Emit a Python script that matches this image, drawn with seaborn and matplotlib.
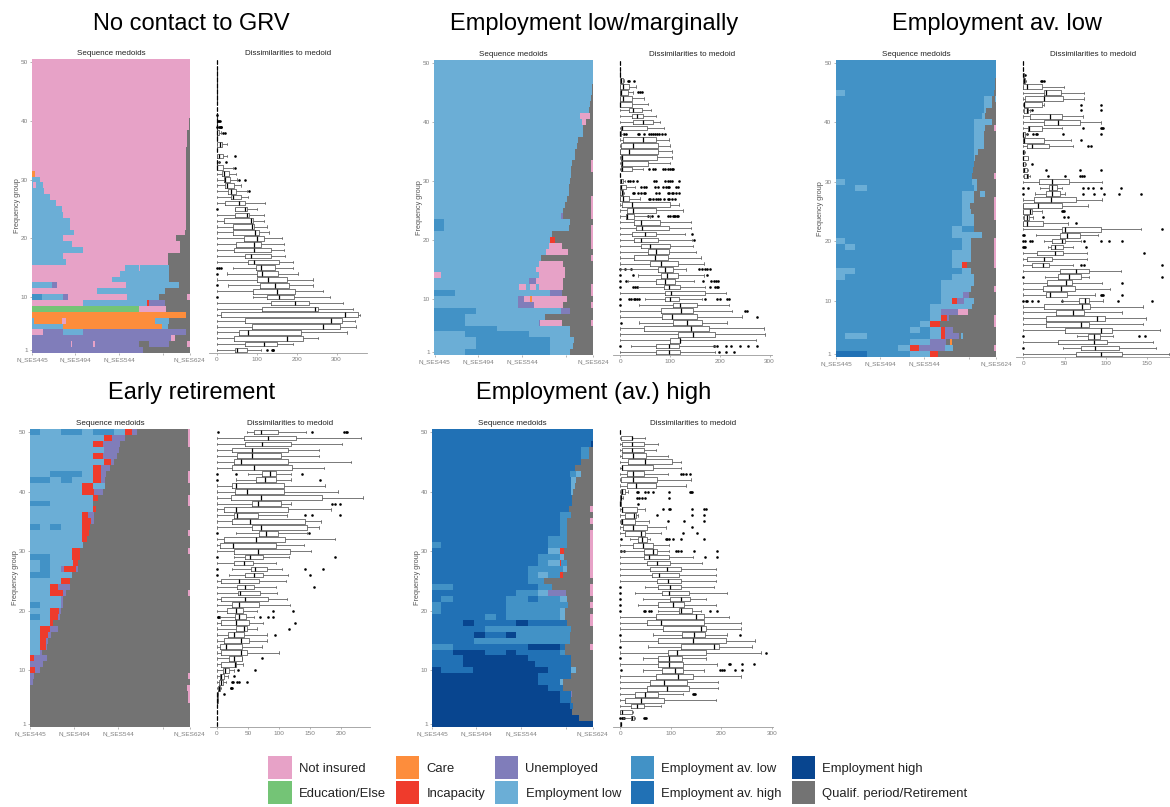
import numpy as np
import pandas as pd
import matplotlib
matplotlib.use("Agg")
import matplotlib.pyplot as plt
from matplotlib.colors import ListedColormap
from matplotlib.patches import Patch, Rectangle
from matplotlib.legend_handler import HandlerPatch
import seaborn as sns

sns.set_theme(style="white")
plt.rcParams['font.family'] = ['Liberation Sans', 'DejaVu Sans']

STATE_CODES = list("NECIULAHTQ")
STATE_LABELS = ["Not insured", "Education/Else", "Care", "Incapacity", "Unemployed",
                "Employment low", "Employment av. low", "Employment av. high",
                "Employment high", "Qualif. period/Retirement"]
STATE_COLORS = ["#E7A2C7", "#74C476", "#FD8D3C", "#EF3B2C", "#807DBA",
                "#6BAED6", "#4292C6", "#2171B5", "#08458F", "#737373"]
PANEL_TITLES = ["No contact to GRV", "Employment low/marginally", "Employment av. low",
                "Early retirement", "Employment (av.) high"]
X_TICK_MONTHS = [0, 49, 99, 149, 179]
X_TICK_LABELS = ["N_SES445", "N_SES494", "N_SES544", "", "N_SES624"]
Y_TICKS = [1, 10, 20, 30, 40, 50]
BOX_TICKS = [[0, 100, 200, 300], [0, 100, 200, 300], [0, 50, 100, 150],
             [0, 50, 100, 150, 200], [0, 100, 200, 300]]

# Sequences, rows 1..50: state code + end month of each spell
SEQ_1 = ["U126 Q180", "U44 N46 U69 N72 U122 Q133 U156 Q177 N180", "U158 N163 Q180", "N12 U35 L58 U176 Q180",
 "L35 C148 L155 Q180", "L2 C34 N39 C140 L156 Q180", "C175 Q180", "E122 N153 Q180", "N58 L131 I133 U152 Q180",
 "A11 L35 U41 N108 L145 Q177 N180", "N74 L152 Q180", "L23 U28 N107 L167 Q180", "N91 L156 Q180", "N100 L156 Q180",
 "N106 L122 N123 L156 Q180", "L39 N155 Q180", "L35 N155 Q180", "L58 N169 Q180", "L46 N169 Q180", "L35 N164 Q180",
 "L48 N174 Q180", "L43 N175 Q180", "L43 N175 Q180", "L35 N176 Q180", "L34 N176 Q180", "L27 N176 Q180",
 "L21 N176 Q180", "L14 N176 Q180", "L1 N5 L12 N176 Q180", "L9 N176 Q180", "C3 N176 Q180", "N175 Q180",
 "N176 Q180", "N176 Q180", "N176 Q180", "N177 Q180", "N177 Q180", "N177 Q180", "N179 Q180", "N179 Q180",
 "N180", "N180", "N180", "N180", "N180", "N180", "N180", "N180", "N180", "N180"]
SEQ_2 = ["L35 A131 L154 Q180", "L47 A131 L157 Q180", "L47 A131 L158 Q180", "L35 A107 L154 Q180", "A71 L154 Q180",
 "A35 L118 U120 N145 Q177 N180", "A35 L125 Q180", "A47 L143 U154 Q180", "L95 U113 N146 Q177 N180",
 "L95 U102 N108 C111 N150 Q180", "A23 L131 U145 Q177 N180", "L96 N104 L108 N115 L118 N146 Q177 N180",
 "L107 U115 N146 Q180", "N8 L118 N148 Q180", "L115 N148 Q180", "L118 N146 Q180", "L121 Q177 N180", "L126 N151 Q180",
 "L130 N145 Q177 N180", "L131 I137 Q177 N180", "L133 Q177 N180", "A11 L152 Q177 N180", "A11 L154 Q180",
 "L143 U146 Q177 N180", "L146 Q177 N180", "L148 Q177 N180", "L150 Q177 N180", "L152 Q180", "L152 Q180", "L154 Q180",
 "L155 Q180", "L155 Q177 N180", "L156 Q177 N180", "L159 Q180", "L159 Q180", "L162 Q180", "L163 Q180", "L168 Q180",
 "L168 Q180", "L167 N172 Q180", "L165 N176 Q180", "L175 Q180", "L176 Q180", "L177 Q180", "L178 Q180", "L179 Q180",
 "L180", "L180", "L180", "L180"]
SEQ_3 = ["H35 A83 L106 I115 Q180", "A70 L83 I93 U122 L131 Q177 N180", "A83 L106 U124 Q128 C130 Q180",
 "A10 L35 A106 L118 I123 U138 Q140 L143 Q180", "A83 L94 A106 L118 I123 U132 Q180", "A94 L106 I117 Q177 N180",
 "A106 L118 I125 U127 Q177 N180", "A106 L118 U137 N148 Q180", "A106 L153 Q180", "A118 L130 I136 U144 L155 Q180",
 "A118 L143 U149 Q180", "A118 L152 Q177 N180", "A118 L155 Q180", "L10 A130 L155 Q180", "L22 A142 L152 Q180",
 "A130 L142 I147 Q177 N180", "A130 L152 Q177 N180", "A130 L152 Q177 N180", "A10 L22 A142 L152 Q177 N180",
 "L10 A142 L152 Q177 N180", "A130 L164 Q180", "A130 L142 A155 Q180", "A142 L155 Q180", "A142 L155 Q177 N180",
 "A142 L152 Q177 N180", "A142 L150 Q177 N180", "A142 L155 Q177 N180", "A142 L155 Q162 L167 Q180",
 "A22 L35 A155 L158 Q180", "L10 A153 L158 Q180", "A153 Q177 N180", "A154 Q180", "A155 Q180", "A155 L156 Q180",
 "A155 L159 Q180", "A155 L166 Q180", "A155 L166 Q180", "A155 L166 Q180", "A155 L167 Q177 N180", "A155 L175 Q180",
 "A164 L167 Q180", "A166 L168 Q180", "A166 L175 Q180", "A166 L175 Q178 L180", "L10 A177 Q180", "A178 Q180",
 "A179 Q180", "A180", "A180", "A180"]
SEQ_4 = ["Q180", "Q180", "Q180", "Q180", "Q178 N180", "Q178 N180", "Q177 N180", "U3 Q180", "U5 Q178 N180", "I6 U11 Q180",
 "U15 Q180", "I4 U19 Q180", "L11 U14 Q180", "L11 I18 U19 Q180", "L11 I18 U20 Q180", "L11 I20 U24 Q180",
 "L11 I22 U31 Q180", "L23 I26 Q180", "A11 L23 I32 U34 Q180", "L23 I33 U35 Q180", "A11 L35 U37 Q180", "L35 U37 Q180",
 "L23 I37 U40 Q178 N180", "L23 I31 U45 Q180", "L35 I45 Q180", "A23 L47 Q180", "L11 A23 L35 U38 I52 U54 Q180",
 "L11 A23 L48 I54 Q180", "A23 L47 I56 Q180", "L47 I56 Q178 N180", "L60 Q180", "L59 I64 Q180", "L59 I66 Q178 N180",
 "A11 L23 A35 L59 I67 Q180", "L59 I69 U72 Q180", "L59 I65 U72 Q180", "L71 I74 Q180", "A23 L71 Q178 N180",
 "L71 I76 Q178 N180", "L59 I72 U82 Q180", "L59 I71 L84 Q180", "A23 L35 A47 L71 I80 U84 Q178 N180",
 "L23 A59 L71 I80 U85 Q178 N180", "L71 I80 U90 Q180", "L83 I91 U95 Q180", "L71 I82 U98 Q180", "L83 U100 Q180",
 "L71 I82 U101 Q178 N180", "L83 I92 U107 Q178 N180", "A11 L35 A59 L71 A95 L107 I115 U120 Q178 N180"]
SEQ_5 = ["T180", "T164 Q180", "T156 Q180", "T154 H158 Q180", "T143 H155 Q180", "T143 H155 U156 Q180", "T130 H146 Q180",
 "T119 H143 L146 Q180", "T119 H155 Q180", "T10 H46 T130 H155 L161 Q180", "H35 T115 H155 Q180", "H35 T107 H155 Q180",
 "H23 T59 H83 T94 H143 A149 Q180", "A23 H107 T143 H149 Q177 N180", "H47 A154 Q180", "H47 T59 H83 T94 A154 Q180",
 "H59 A155 Q180", "H35 T47 H94 T107 H151 Q177 N180", "H59 A71 H83 A143 L149 Q177 N180", "A10 H83 A143 L149 Q180",
 "A10 H83 A152 Q177 N180", "H10 A23 H83 A107 H118 A143 L151 Q180", "H94 A118 L130 U150 Q177 N180",
 "A23 H118 A134 Q177 N180", "H107 A125 Q180", "H107 A118 L130 A143 I147 Q177 N180", "H107 A147 L151 Q177 N180",
 "H118 A130 L143 I144 A151 Q177 N180", "H118 A143 L148 Q177 N180", "H130 L143 I148 Q177 N180",
 "A10 H130 A151 Q177 N180", "H130 A151 Q177 N180", "H143 A151 Q177 N180", "H143 A151 Q180", "H143 A151 Q177 N180",
 "H143 A155 Q180", "H153 Q177 N180", "H156 Q180", "H156 Q180", "H155 L158 Q180", "H155 L160 Q180", "H155 L161 Q180",
 "H154 A161 L167 Q180", "H160 Q180", "H167 Q180", "H167 A176 Q180", "H167 A176 Q180", "H178 T180", "H180", "H180"]

Z = (0, 0, 0, 0, 0)
# Boxes, rows 1..50: whisker low, q1, median, q3, whisker high
BOX_1 = [(0,45,52,77,110),(0,72,119,150,190),(0,43,177,217,253),(0,56,79,211,327),(0,89,267,309,348),(0,72,285,314,345),
 (0,12,321,353,358),(0,114,246,254,342),(0,137,197,231,316),(92,125,157,193,284),(0,92,150,196,265),(28,108,146,180,240),
 (0,102,129,175,240),(25,102,114,154,203),(40,98,112,147,192),(0,79,94,157,192),(0,72,85,136,170),(0,44,93,136,168),
 (0,48,93,110,168),(0,69,100,119,163),(0,42,96,107,132),(0,42,88,93,125),(0,19,85,92,118),(0,46,77,82,118),(45,46,71,77,102),
 (0,22,57,72,120),(0,35,42,60,78),(0,29,37,48,75),(0,21,25,44,62),(0,19,22,33,50),(0,14,18,30,48),(0,0,1,17,40),(0,0,0,1,5),
 (0,0,6,17,25),Z,(0,2,8,14,25),Z,(0,0,0,7,12),Z,Z,Z,Z,Z,Z,Z,Z,Z,Z,Z,Z]
BOX_2 = [(0,72,97,121,190),(22,72,97,119,190),(0,99,121,121,272),(0,115,146,191,290),(0,48,142,179,288),(37,105,135,164,214),
 (0,84,104,154,245),(0,82,123,146,224),(37,105,121,154,218),(50,89,99,119,165),(0,90,101,170,212),(35,87,97,121,170),
 (15,72,89,109,148),(35,81,93,117,168),(0,76,89,105,133),(0,60,81,117,168),(0,28,70,95,163),(0,56,71,97,153),(0,42,60,100,147),
 (0,27,42,76,145),(0,24,50,72,130),(0,32,44,97,142),(0,27,42,80,142),(0,11,14,28,60),(0,13,25,71,127),(0,4,23,99,118),
 (0,0,6,18,40),(0,0,4,6,8),(0,0,2,12,30),(0,0,2,5,10),Z,(0,2,4,24,45),(0,2,4,56,100),(0,2,3,74,103),(0,0,18,76,103),(0,2,26,76,100),
 (0,6,46,72,97),(0,0,0,2,5),(0,2,3,54,87),(0,25,46,65,80),(0,23,33,46,72),(0,17,25,44,61),(0,0,0,24,55),(0,0,6,24,47),(0,0,2,15,25),
 (0,0,6,18,32),(0,0,2,6,8),Z,Z,Z]
BOX_3 = [(0,64,94,119,176),(48,70,87,116,160),(0,42,85,101,157),(65,78,85,93,108),(0,50,94,107,166),(0,27,70,80,145),(0,28,89,99,148),
 (0,40,60,74,120),(0,25,71,81,145),(47,67,75,80,97),(0,28,32,53,87),(0,24,45,62,105),(0,29,52,59,95),(26,42,55,70,80),(0,44,64,79,118),
 (0,11,24,31,60),(0,4,25,35,77),(0,16,38,48,77),(30,33,38,48,60),(25,35,47,51,70),(15,44,53,68,90),(0,47,50,94,143),(0,0,4,24,54),
 (0,1,4,7,12),(0,0,8,11,22),(0,0,18,47,78),(0,13,34,64,95),(14,27,35,44,50),(20,31,35,41,47),(0,19,35,55,95),(0,1,4,6,8),(0,0,1,4,6),
 (0,0,0,2,3),(0,0,0,6,6),(0,0,0,1,2),(0,4,11,31,60),(0,0,1,25,58),(0,0,0,2,4),(0,6,7,23,47),(0,25,42,68,94),(0,8,32,47,72),(0,1,4,6,8),
 (0,1,1,22,25),(0,2,25,48,74),(0,25,27,46,74),(0,0,4,23,49),(0,0,1,2,3),(0,0,0,1,1),Z,Z]
BOX_4 = [Z,Z,Z,Z,(0,0,0,1,1),(0,0,0,1,2),(0,2,3,5,6),(0,4,6,10,14),(0,5,7,12,17),(0,10,13,20,28),(0,7,29,31,42),(0,19,28,41,41),
 (0,6,39,48,100),(0,5,15,40,73),(0,11,39,52,80),(0,17,27,44,80),(0,30,43,48,65),(0,6,31,52,75),(5,29,36,47,60),(0,16,31,42,65),
 (0,25,36,68,118),(0,6,46,82,113),(0,34,37,70,97),(0,32,45,59,95),(0,7,36,68,112),(20,46,60,75,115),(25,55,62,81,105),(0,28,43,58,96),
 (28,46,53,75,116),(0,28,66,118,152),(0,5,26,96,141),(0,11,63,110,190),(30,67,79,98,145),(0,57,71,146,165),(0,25,53,142,168),
 (0,28,33,66,113),(0,11,31,114,184),(0,57,66,103,120),(0,22,71,170,236),(0,29,48,108,196),(0,25,30,108,175),(30,63,77,96,120),
 (50,72,85,96,120),(0,25,60,121,172),(0,27,38,114,216),(0,33,56,104,165),(0,25,56,114,165),(0,46,73,120,202),(0,44,82,128,232),(48,60,71,98,143)]
BOX_5 = [(0,0,1,1,2),(5,21,24,27,30),(0,0,4,24,25),(0,22,33,48,80),(0,10,42,87,190),(0,30,49,75,124),(0,53,92,137,193),(0,59,87,133,193),
 (0,72,115,145,240),(45,83,109,125,167),(0,75,97,125,192),(45,75,97,122,170),(0,95,113,171,278),(55,121,185,195,262),(0,76,144,209,266),
 (65,123,146,169,212),(0,84,160,171,240),(0,54,80,167,240),(0,72,150,167,216),(75,117,121,142,160),(35,76,104,127,190),(45,98,120,139,170),
 (30,83,96,137,212),(50,75,98,121,185),(0,73,94,121,190),(0,63,78,117,190),(0,59,92,121,190),(0,53,73,98,162),(0,47,57,96,145),
 (0,47,65,73,96),(0,26,46,66,96),(20,35,44,53,60),(0,9,42,50,80),(0,5,26,53,90),(0,1,3,30,58),(0,9,28,32,35),(0,3,3,34,50),(0,0,0,1,2),
 (0,0,1,2,5),(0,1,3,9,15),(0,13,32,72,130),(0,1,25,74,140),(0,13,26,48,95),(0,4,4,66,120),(0,15,50,103,120),(0,3,25,51,95),(0,3,24,48,72),
 (0,3,24,48,75),(0,1,24,24,50),Z]

# Outliers, row -> values
OUT_1 = {1:[126,138,140,142],10:[1],12:[1],14:[1],15:[1,5,10],25:[1],28:[80],30:[57,70],32:[46],33:[6,24],34:[46],38:[17,20],
 39:[2,5,8,10,12],40:[3,6,8],41:[2]}
OUT_2 = {1:[198,212,228],2:[0,188,195,213,222,240,257,275],6:[1],7:[274],8:[250,254],9:[0],
 10:[0,17,22,27,30,33,37,170,195,200,215,218],12:[0,25,30,33,180,190,195,197],13:[0,12,167,183,188,192,196],14:[0,25,174],
 15:[0,10,22,158,165,170,175,180],20:[148],21:[145],24:[56,63,75,95,100,105,108,110,113,115],
 27:[57,60,65,72,75,80,87,95,97,103,110],28:[25,28,35,42,47,50,72,77,95,98,103,105,112,118],
 29:[42,48,52,70,75,85,92,95,98,112,116],30:[15,20,25,34,68,72,90,95,100,103,119],32:[58,65,70,85,90,95,100,103,106],
 38:[8,12,35,38,48,58,62,65,70,74,78,84,90],45:[35,40,43],47:[16,18,28]}
OUT_3 = {2:[0],4:[0,140,147],10:[0,3,5,10,18,47,114,156],11:[94,95,96,120],13:[120],14:[0,168],16:[70,73,168],18:[146],19:[0,1,2,76],
 20:[0,2,8,10,74,94,104,120],21:[0,1],22:[168],23:[64],24:[24,49,54],25:[47,48,49],28:[0,72,86,98,116,142],29:[0,6,72,78,84,94,118],
 31:[30,50,68,71,73],32:[28,68,94],33:[10],36:[78,82],37:[70],38:[4,12,15,17,48,94],39:[72,94,95,96],42:[10,70,94],43:[70,94],47:[21,23,25],48:[2]}
OUT_4 = {6:[12],7:[22,23,24],8:[25,26,32,36,48],9:[28],10:[34,62],12:[72],16:[94],17:[117],18:[126],19:[1,2,3,70,82,90],20:[90,122],24:[156],
 26:[0,150],27:[0,142,171],29:[0,190],33:[0,148],36:[142,153,198],38:[186,190,198],42:[0,166],43:[0,30,138],50:[1,154,205,208,210]}
OUT_5 = {2:[0,3,5,8,48,50,52],6:[144,146,148],10:[1,197,202,206,228,241],11:[215,217,241,265],12:[0],13:[288],14:[0],16:[0,238],
 20:[0,48,50,58,61,178,192],21:[0],22:[0],23:[0],24:[0],29:[168,191],30:[1,8,110,114,121,146,191],32:[1,90,93,97,105,120,166],
 33:[124,153],34:[143],35:[94,127,166],36:[74,143,166],37:[84,96,98,143,166,170],38:[36],39:[33,37,43,50,96],
 40:[33,36,50,56,65,96,138,140,143],43:[120,125,130,138]}

SEQS = [SEQ_1, SEQ_2, SEQ_3, SEQ_4, SEQ_5]
BOXES = [BOX_1, BOX_2, BOX_3, BOX_4, BOX_5]
OUTS = [OUT_1, OUT_2, OUT_3, OUT_4, OUT_5]

W, H = 1170, 807
# layout in pixels: heat left/right, box left/right, top, bottom, box x-limits, title x, title y
LAYOUT = [
    (32, 190, 209, 367, 59, 353, (-19, 376), 191, 24),
    (434.3, 593.3, 613, 772, 60, 355, (-14.7, 305), 594, 24),
    (835.7, 996.3, 1016, 1170, 60, 357, (-8.9, 177.5), 997, 24),
    (30, 190, 210, 370, 429, 727, (-11.3, 247), 192, 393),
    (432, 593, 613, 772.7, 429, 727, (-14, 302), 594, 393),
]
GREY = "#7f7f7f"
TICK_FS, SUB_FS, TITLE_FS = 4.6, 5.8, 17.0


def axes_px(fig, l, r, t, b):
    return fig.add_axes([l / W, 1 - b / H, (r - l) / W, (b - t) / H])


def matrix(rows):
    m = np.zeros((50, 180), dtype=int)
    for i, row in enumerate(rows):
        start = 0
        for tok in row.split():
            end = int(tok[1:])
            m[i, start:end] = STATE_CODES.index(tok[0])
            start = end
    return m


def swatch(legend, orig_handle, xdescent, ydescent, width, height, fontsize):
    return Rectangle((-xdescent, -5.0), width, 16.6)


fig = plt.figure(figsize=(W / 100, H / 100), dpi=100)
cmap = ListedColormap(STATE_COLORS)

for k, (hl, hr, bl, br, top, bot, xlim, tx, ty) in enumerate(LAYOUT):
    # sequence medoids
    ax = axes_px(fig, hl, hr, top, bot)
    sns.heatmap(matrix(SEQS[k]), cmap=cmap, vmin=-0.5, vmax=9.5, cbar=False, ax=ax,
                xticklabels=False, yticklabels=False, rasterized=True)
    ax.set_ylim(0, 50)
    ax.set_xticks([m + 0.5 for m in X_TICK_MONTHS])
    ax.set_xticklabels(X_TICK_LABELS, fontsize=TICK_FS, color=GREY, rotation=0)
    ax.set_yticks([y - 0.5 for y in Y_TICKS])
    ax.set_yticklabels(Y_TICKS, fontsize=TICK_FS, color=GREY, rotation=0)
    ax.tick_params(length=1.5, width=0.4, color=GREY, pad=1.5, bottom=True, left=True)
    ax.set_ylabel("Frequency group", fontsize=TICK_FS + 0.6, color="#555555", labelpad=0)
    ax.set_xlabel("")
    ax.set_title("Sequence medoids", fontsize=SUB_FS, color="#222222", pad=3)

    # dissimilarities
    bx = axes_px(fig, bl, br, top, bot)
    df = pd.DataFrame([(r + 1, v) for r, vals in enumerate(BOXES[k]) for v in vals],
                      columns=["group", "dist"])
    sns.boxplot(data=df, x="dist", y="group", orient="h", native_scale=True, whis=(0, 100),
                width=0.78, fill=False, color="#555555", linewidth=0.55, showfliers=False,
                medianprops={"color": "black", "linewidth": 0.9}, ax=bx)
    of = pd.DataFrame([(r, v) for r, vals in OUTS[k].items() for v in vals], columns=["group", "dist"])
    sns.scatterplot(data=of, x="dist", y="group", s=3.5, color="black", linewidth=0, ax=bx, legend=False)
    bx.set_xlim(*xlim)
    bx.set_ylim(0.5, 50.5)
    bx.set_xticks(BOX_TICKS[k])
    bx.set_xticklabels(BOX_TICKS[k], fontsize=TICK_FS, color=GREY)
    bx.set_yticks([])
    bx.set_xlabel("")
    bx.set_ylabel("")
    sns.despine(ax=bx, left=True)
    bx.spines["bottom"].set_color("#9a9a9a")
    bx.spines["bottom"].set_linewidth(0.6)
    bx.tick_params(axis="x", length=1.5, width=0.4, color=GREY, pad=1.5, bottom=True)
    bx.set_title("Dissimilarities to medoid", fontsize=SUB_FS, color="#222222", pad=3)

    fig.text(tx / W, 1 - ty / H, PANEL_TITLES[k], fontsize=TITLE_FS, ha="center", va="center", color="black")

handles = [Patch(facecolor=c, edgecolor="none", label=l) for c, l in zip(STATE_COLORS, STATE_LABELS)]
fig.legend(handles=handles, ncol=5, frameon=False, fontsize=9.4, loc="lower left",
           bbox_to_anchor=(268 / W, 1 - 800 / H), handlelength=1.81, handleheight=1.0,
           handletextpad=0.54, columnspacing=0.75, labelspacing=0.87, labelcolor="#222222",
           borderpad=0, borderaxespad=0, handler_map={Patch: HandlerPatch(patch_func=swatch)})

fig.savefig("out.png", dpi=100)
